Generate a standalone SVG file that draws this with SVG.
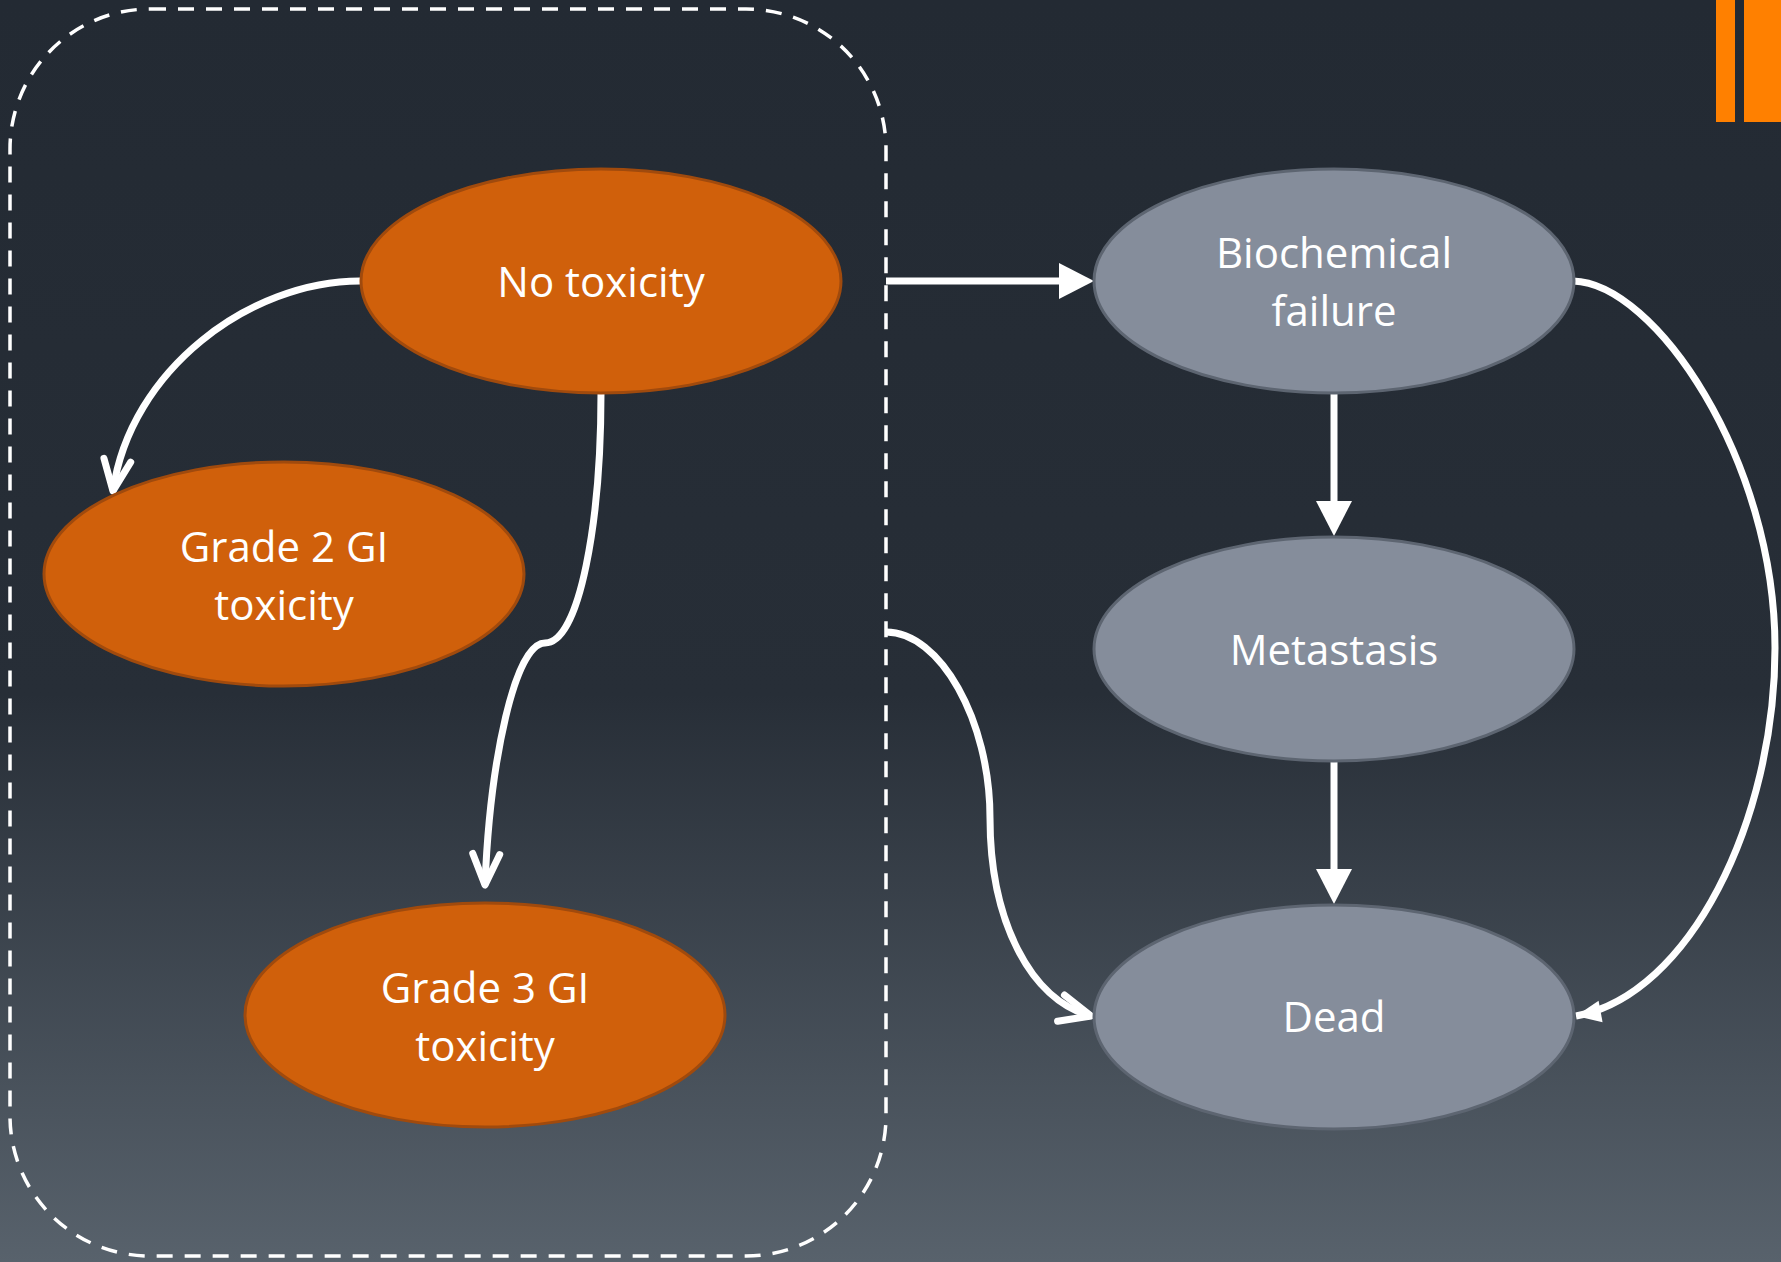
<svg xmlns="http://www.w3.org/2000/svg" width="1781" height="1262" viewBox="0 0 1781 1262">
<defs>
<linearGradient id="bg" x1="0" y1="0" x2="0" y2="1">
<stop offset="0" stop-color="#232a33"/>
<stop offset="0.55" stop-color="#272e37"/>
<stop offset="1" stop-color="#58626c"/>
</linearGradient>
<marker id="tri" markerUnits="userSpaceOnUse" markerWidth="40" markerHeight="40" refX="0" refY="0" orient="auto" overflow="visible">
<path d="M0,-18 L35,0 L0,18 z" fill="#ffffff"/>
</marker>
<marker id="vee" markerUnits="userSpaceOnUse" markerWidth="40" markerHeight="40" refX="0" refY="0" orient="auto" overflow="visible">
<path d="M-31,-13.5 L0,0 L-31,13.5" fill="none" stroke="#ffffff" stroke-width="7" stroke-linecap="round" stroke-linejoin="round"/>
</marker>
<marker id="small" markerUnits="userSpaceOnUse" markerWidth="40" markerHeight="40" refX="0" refY="0" orient="auto" overflow="visible">
<path d="M-25,-11 L0,0 L-25,11 z" fill="#ffffff"/>
</marker>
</defs>
<style>
.orange{fill:#d0600b;stroke:#a04a0d;stroke-width:3}
.grey{fill:#858d9b;stroke:#5d6571;stroke-width:3}
.lbl{font-family:"Open Sans","Noto Sans",sans-serif;font-size:42px;fill:#ffffff;text-anchor:middle}
.con{fill:none;stroke:#ffffff;stroke-width:7}
</style>
<rect x="0" y="0" width="1781" height="1262" fill="url(#bg)"/>
<g id="accent">
<rect x="1716" y="0" width="19" height="122" fill="#ff8000"/>
<rect x="1744" y="0" width="37" height="122" fill="#ff8000"/>
</g>
<g id="group-box">
<rect x="10" y="9" width="876" height="1247" rx="140" ry="140" fill="none" stroke="#ffffff" stroke-width="3.5" stroke-dasharray="16 12"/>
</g>
<g id="connectors">
<path class="con" d="M886,281 L1059,281" marker-end="url(#tri)"/>
<path class="con" d="M1334,393 L1334,501" marker-end="url(#tri)"/>
<path class="con" d="M1334,761 L1334,869" marker-end="url(#tri)"/>
<path class="con" d="M360,281 C250,281 130,370 113,491" marker-end="url(#vee)"/>
<path class="con" d="M601,393 C601,520 580,643 545,643 C515,643 490,760 485,885" marker-end="url(#vee)"/>
<path class="con" d="M886,632 C940,632 990,720 990,818 C990,920 1030,1000 1091,1016" marker-end="url(#vee)"/>
<path class="con" d="M1573,281 C1655,283 1775,460 1775,648 C1775,820 1690,995 1576,1016" marker-end="url(#small)"/>
</g>
<g id="node-no-toxicity">
<ellipse class="orange" cx="601" cy="281" rx="240" ry="112"/>
<text class="lbl" x="601" y="297">No toxicity</text>
</g>
<g id="node-grade2">
<ellipse class="orange" cx="284" cy="574" rx="240" ry="112"/>
<text class="lbl" x="284" y="562">Grade 2 GI</text>
<text class="lbl" x="284" y="620">toxicity</text>
</g>
<g id="node-grade3">
<ellipse class="orange" cx="485" cy="1015" rx="240" ry="112"/>
<text class="lbl" x="485" y="1003">Grade 3 GI</text>
<text class="lbl" x="485" y="1061">toxicity</text>
</g>
<g id="node-biochemical">
<ellipse class="grey" cx="1334" cy="281" rx="240" ry="112"/>
<text class="lbl" x="1334" y="268">Biochemical</text>
<text class="lbl" x="1334" y="326">failure</text>
</g>
<g id="node-metastasis">
<ellipse class="grey" cx="1334" cy="649" rx="240" ry="112"/>
<text class="lbl" x="1334" y="665">Metastasis</text>
</g>
<g id="node-dead">
<ellipse class="grey" cx="1334" cy="1017" rx="240" ry="112"/>
<text class="lbl" x="1334" y="1032">Dead</text>
</g>
</svg>
